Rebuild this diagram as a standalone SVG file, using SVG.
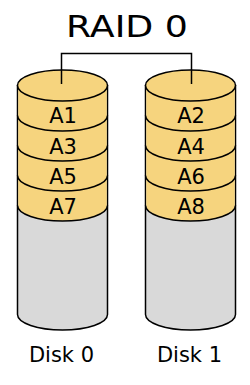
<svg xmlns="http://www.w3.org/2000/svg" width="250" height="385" viewBox="0 0 250 385">
<style>
.body{fill:#d9d9d9;stroke:#000;stroke-width:1.5}
.data{fill:#f6d47e;stroke:none}
.arc{fill:none;stroke:#000;stroke-width:1.5}
.top{fill:#f6d47e;stroke:#000;stroke-width:1.5}
.lbl{font-family:"DejaVu Sans",sans-serif;font-size:21px;fill:#000;text-anchor:middle}
.title{font-family:"DejaVu Sans",sans-serif;font-size:30px;fill:#000;text-anchor:middle}
.conn{fill:none;stroke:#000;stroke-width:1.5}
</style>
<rect width="250" height="385" fill="#fff"/>
<text class="title" x="127" y="37" textLength="122" lengthAdjust="spacingAndGlyphs">RAID 0</text>
<g id="disk0">
<path class="body" d="M17.5,85.5 V314.5 A45,15.5 0 0 0 107.5,314.5 V85.5 Z"/>
<path class="data" d="M18.25,85.5 V205.5 A44.25,15.5 0 0 0 106.75,205.5 V85.5 Z"/>
<path class="arc" d="M17.5,115.5 A45,15.5 0 0 0 107.5,115.5 M17.5,145.5 A45,15.5 0 0 0 107.5,145.5 M17.5,175.5 A45,15.5 0 0 0 107.5,175.5 M17.5,205.5 A45,15.5 0 0 0 107.5,205.5"/>
<ellipse class="top" cx="62.5" cy="85.5" rx="45" ry="15.5"/>
<text class="lbl" x="63" y="123">A1</text>
<text class="lbl" x="63" y="154">A3</text>
<text class="lbl" x="63" y="184">A5</text>
<text class="lbl" x="63" y="213.5">A7</text>
<text class="lbl" x="61.5" y="362">Disk 0</text>
</g>
<g id="disk1">
<path class="body" d="M145.5,85.5 V314.5 A45,15.5 0 0 0 235.5,314.5 V85.5 Z"/>
<path class="data" d="M146.25,85.5 V205.5 A44.25,15.5 0 0 0 234.75,205.5 V85.5 Z"/>
<path class="arc" d="M145.5,115.5 A45,15.5 0 0 0 235.5,115.5 M145.5,145.5 A45,15.5 0 0 0 235.5,145.5 M145.5,175.5 A45,15.5 0 0 0 235.5,175.5 M145.5,205.5 A45,15.5 0 0 0 235.5,205.5"/>
<ellipse class="top" cx="190.5" cy="85.5" rx="45" ry="15.5"/>
<text class="lbl" x="191" y="123">A2</text>
<text class="lbl" x="191" y="154">A4</text>
<text class="lbl" x="191" y="184">A6</text>
<text class="lbl" x="191" y="213.5">A8</text>
<text class="lbl" x="189.5" y="362">Disk 1</text>
</g>
<g id="connectors">
<path class="conn" d="M61.5,84 V53.5 H191.5 V84"/>
</g>
</svg>
